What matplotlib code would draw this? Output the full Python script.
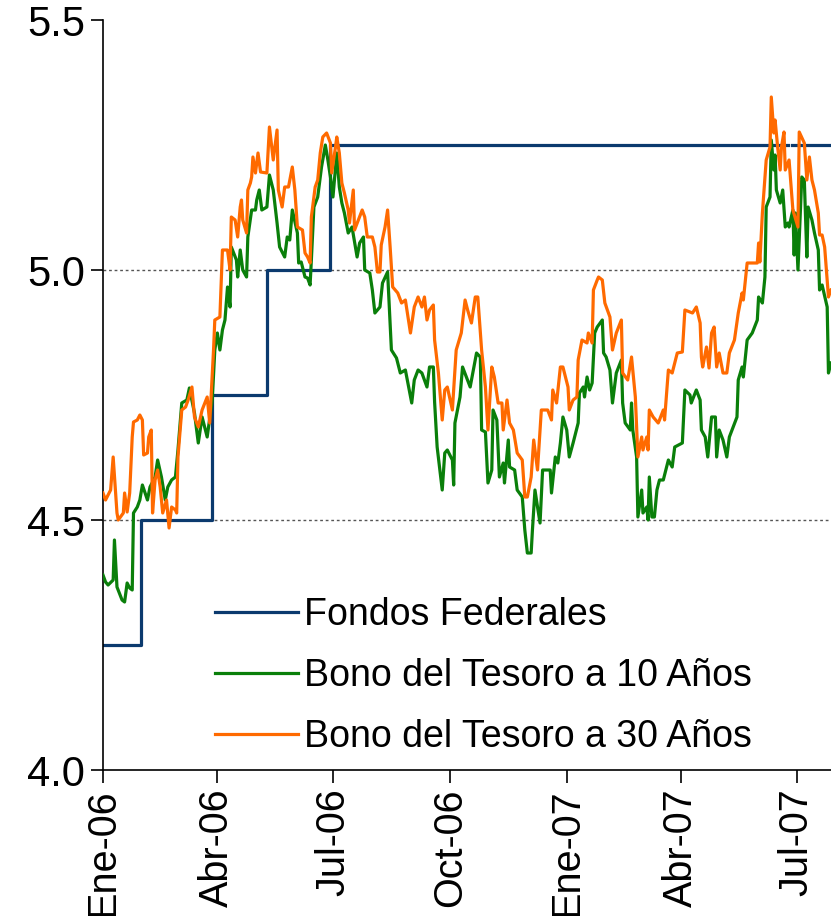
import numpy as np
import pandas as pd
import matplotlib
matplotlib.use("Agg")
import matplotlib.pyplot as plt
import matplotlib.dates as mdates

plt.rcParams['font.family'] = ['Liberation Sans', 'DejaVu Sans']

inicio = pd.Timestamp("2006-01-01")
fin_dias = 573

# Fondos Federales (days since 2006-01-01, %)
fed_dias = [0, 30, 86, 129, 179, 538, 539, 542, 573]
fed_vals = [4.25, 4.50, 4.75, 5.00, 5.25, 5.25, np.nan, 5.25, 5.25]

# Bono del Tesoro a 10 Años
b10_dias = [0, 2, 4, 8, 9, 11, 15, 17, 19, 21, 23, 24, 27, 29, 31, 35, 37, 41, 43, 46,
            49, 51, 54, 57, 59, 62, 66, 68, 72, 75, 78, 82, 86, 88, 90, 92, 94, 96, 98, 100,
            101, 105, 106, 108, 110, 113, 114, 117, 120, 121, 123, 125, 129, 131, 134, 137, 139, 143, 145, 147,
            149, 153, 154, 156, 159, 161, 163, 164, 166, 169, 172, 175, 177, 179, 181, 184, 186, 188, 190, 193,
            196, 200, 202, 205, 206, 210, 212, 214, 218, 220, 224, 227, 231, 234, 238, 240, 243, 245, 248, 251,
            253, 255, 257, 260, 261, 263, 267, 269, 271, 275, 276, 277, 281, 283, 289, 294, 297, 298, 301, 303,
            306, 307, 310, 312, 315, 316, 319, 320, 324, 326, 330, 332, 334, 337, 338, 340, 342, 344, 346, 352,
            353, 356, 358, 360, 362, 365, 367, 370, 374, 375, 378, 379, 381, 383, 385, 387, 389, 393, 394, 396,
            399, 401, 404, 408, 409, 411, 415, 416, 417, 420, 421, 424, 425, 428, 429, 430, 432, 434, 436, 438,
            441, 445, 448, 450, 456, 458, 462, 463, 467, 470, 471, 474, 476, 479, 482, 483, 485, 488, 491, 493,
            499, 500, 503, 504, 507, 511, 515, 516, 519, 521, 522, 525, 526, 528, 529, 530, 533, 535, 537, 539,
            540, 543, 544, 545, 547, 550, 552, 554, 555, 558, 560, 563, 564, 566, 570, 571, 573]
b10_vals = [4.39, 4.376, 4.37, 4.38, 4.46, 4.366, 4.34, 4.336, 4.374, 4.364, 4.36, 4.514, 4.526, 4.54, 4.57, 4.54, 4.566, 4.586, 4.62, 4.586,
            4.54, 4.566, 4.58, 4.586, 4.64, 4.734, 4.74, 4.764, 4.714, 4.654, 4.706, 4.666, 4.74, 4.84, 4.874, 4.84, 4.88, 4.90, 4.966, 4.926,
            5.046, 5.02, 4.986, 5.04, 5.00, 4.986, 5.066, 5.12, 5.12, 5.14, 5.16, 5.12, 5.126, 5.19, 5.16, 5.094, 5.046, 5.026, 5.066, 5.06,
            5.12, 5.074, 5.014, 5.016, 4.986, 4.984, 4.97, 5.02, 5.126, 5.146, 5.206, 5.25, 5.22, 5.186, 5.146, 5.234, 5.166, 5.134, 5.114, 5.074,
            5.086, 5.026, 5.054, 5.066, 5.00, 4.994, 4.96, 4.914, 4.926, 4.974, 4.996, 4.84, 4.824, 4.794, 4.80, 4.774, 4.734, 4.78, 4.80, 4.794,
            4.78, 4.766, 4.806, 4.806, 4.736, 4.646, 4.56, 4.634, 4.64, 4.62, 4.57, 4.694, 4.746, 4.806, 4.766, 4.834, 4.826, 4.68, 4.676, 4.574,
            4.60, 4.72, 4.70, 4.586, 4.614, 4.574, 4.66, 4.606, 4.60, 4.56, 4.546, 4.48, 4.434, 4.434, 4.48, 4.56, 4.526, 4.494, 4.60, 4.60,
            4.554, 4.626, 4.614, 4.654, 4.706, 4.68, 4.626, 4.654, 4.694, 4.754, 4.766, 4.746, 4.786, 4.76, 4.774, 4.874, 4.886, 4.90, 4.834, 4.826,
            4.80, 4.734, 4.794, 4.82, 4.734, 4.694, 4.68, 4.734, 4.68, 4.626, 4.506, 4.56, 4.514, 4.526, 4.50, 4.586, 4.506, 4.506, 4.56, 4.58,
            4.58, 4.62, 4.606, 4.646, 4.654, 4.76, 4.75, 4.734, 4.76, 4.74, 4.68, 4.666, 4.626, 4.706, 4.706, 4.626, 4.68, 4.66, 4.626, 4.666,
            4.706, 4.78, 4.806, 4.786, 4.86, 4.874, 4.90, 4.946, 4.934, 4.986, 5.126, 5.146, 5.26, 5.20, 5.23, 5.16, 5.134, 5.16, 5.086, 5.094,
            5.086, 5.12, 5.03, 5.114, 5.00, 5.186, 5.18, 5.026, 5.126, 5.10, 5.074, 5.04, 4.96, 4.97, 4.926, 4.794, 4.814]

# Bono del Tesoro a 30 Años
b30_dias = [0, 2, 6, 8, 11, 12, 16, 17, 19, 21, 23, 24, 27, 29, 31, 32, 35, 36, 38, 39,
            41, 43, 45, 47, 50, 52, 54, 57, 58, 59, 62, 65, 67, 70, 72, 75, 78, 82, 84, 87,
            88, 92, 94, 98, 100, 101, 104, 106, 108, 109, 110, 113, 114, 116, 117, 118, 120, 122, 124, 129,
            131, 134, 137, 138, 141, 143, 146, 149, 151, 153, 157, 159, 161, 163, 164, 167, 169, 171, 173, 176,
            179, 180, 183, 184, 186, 188, 190, 193, 194, 197, 198, 201, 204, 206, 208, 212, 214, 216, 218, 219,
            222, 224, 226, 228, 232, 235, 238, 242, 245, 248, 251, 253, 255, 257, 260, 261, 264, 267, 269, 271,
            275, 278, 282, 285, 287, 290, 293, 295, 298, 301, 303, 306, 308, 311, 314, 315, 318, 320, 323, 326,
            330, 332, 334, 337, 339, 342, 345, 350, 353, 354, 357, 360, 362, 366, 367, 370, 373, 374, 377, 381,
            382, 385, 386, 389, 390, 393, 395, 399, 401, 404, 408, 409, 413, 416, 419, 421, 424, 425, 428, 429,
            430, 433, 437, 438, 441, 442, 445, 448, 452, 456, 458, 462, 464, 467, 470, 471, 472, 475, 477, 479,
            481, 483, 485, 488, 491, 493, 497, 500, 503, 504, 507, 515, 516, 517, 519, 522, 525, 526, 528, 529,
            531, 533, 534, 536, 537, 540, 543, 547, 548, 552, 554, 556, 558, 560, 563, 564, 566, 568, 570, 571,
            573]
b30_vals = [4.554, 4.54, 4.56, 4.626, 4.514, 4.50, 4.514, 4.554, 4.516, 4.554, 4.666, 4.696, 4.70, 4.71, 4.70, 4.63, 4.634, 4.666, 4.68, 4.514,
            4.58, 4.60, 4.566, 4.514, 4.54, 4.484, 4.526, 4.52, 4.514, 4.626, 4.72, 4.726, 4.74, 4.766, 4.706, 4.686, 4.72, 4.746, 4.694, 4.84,
            4.90, 4.906, 5.04, 5.04, 5.00, 5.106, 5.10, 5.066, 5.126, 5.14, 5.10, 5.074, 5.16, 5.174, 5.186, 5.226, 5.194, 5.234, 5.196, 5.194,
            5.286, 5.22, 5.28, 5.16, 5.126, 5.166, 5.166, 5.206, 5.16, 5.086, 5.08, 5.034, 5.026, 5.014, 5.106, 5.166, 5.18, 5.234, 5.266, 5.274,
            5.254, 5.194, 5.246, 5.266, 5.234, 5.174, 5.154, 5.12, 5.094, 5.16, 5.08, 5.10, 5.12, 5.106, 5.066, 5.066, 5.046, 4.996, 4.996, 5.05,
            5.086, 5.12, 5.046, 4.966, 4.954, 4.934, 4.94, 4.874, 4.926, 4.946, 4.926, 4.946, 4.90, 4.92, 4.93, 4.86, 4.794, 4.70, 4.76, 4.766,
            4.72, 4.84, 4.874, 4.94, 4.92, 4.894, 4.946, 4.946, 4.84, 4.766, 4.68, 4.806, 4.786, 4.734, 4.734, 4.68, 4.74, 4.694, 4.68, 4.634,
            4.62, 4.546, 4.546, 4.586, 4.66, 4.60, 4.72, 4.72, 4.70, 4.76, 4.734, 4.806, 4.806, 4.766, 4.72, 4.74, 4.746, 4.82, 4.86, 4.854,
            4.874, 4.854, 4.96, 4.98, 4.986, 4.98, 4.934, 4.906, 4.84, 4.874, 4.90, 4.794, 4.78, 4.826, 4.746, 4.626, 4.666, 4.64, 4.666, 4.64,
            4.72, 4.706, 4.694, 4.70, 4.72, 4.70, 4.80, 4.794, 4.834, 4.836, 4.92, 4.916, 4.914, 4.926, 4.894, 4.826, 4.806, 4.846, 4.804, 4.874,
            4.886, 4.806, 4.834, 4.794, 4.794, 4.834, 4.86, 4.914, 4.954, 4.94, 5.014, 5.014, 5.054, 5.016, 5.114, 5.22, 5.246, 5.346, 5.274, 5.30,
            5.246, 5.20, 5.246, 5.276, 5.20, 5.22, 5.12, 5.086, 5.276, 5.254, 5.18, 5.226, 5.18, 5.16, 5.114, 5.07, 5.07, 5.046, 4.98, 4.946,
            4.96]

tick_fechas = ["2006-01-01", "2006-04-01", "2006-07-01", "2006-10-01",
               "2007-01-01", "2007-04-01", "2007-07-01"]
tick_labels = ["Ene-06", "Abr-06", "Jul-06", "Oct-06", "Ene-07", "Abr-07", "Jul-07"]
y_ticks = [4.0, 4.5, 5.0, 5.5]

def to_dates(d):
    return inicio + pd.to_timedelta(np.asarray(d, dtype=float), unit="D")

fig = plt.figure(figsize=(8.31, 9.16), dpi=100)
ax = fig.add_axes([103/831, 1 - 770/916, 1 - 103/831, (770 - 20)/916])

ax.plot(to_dates(fed_dias), fed_vals, color="#0B3A6E", lw=2.3, drawstyle="steps-post",
        label="Fondos Federales", zorder=2)
ax.plot(to_dates(b10_dias), b10_vals, color="#0A7F0A", lw=2.3, label="Bono del Tesoro a 10 Años", zorder=3)
ax.plot(to_dates(b30_dias), b30_vals, color="#FF6A00", lw=2.3, label="Bono del Tesoro a 30 Años", zorder=4)

ax.set_ylim(4.0, 5.5)
ax.set_xlim(inicio, inicio + pd.Timedelta(days=fin_dias))
ax.set_yticks(y_ticks)
ax.set_yticklabels([f"{v:.1f}" for v in y_ticks], fontsize=30)
ax.set_xticks(pd.to_datetime(tick_fechas))
ax.set_xticklabels(tick_labels, rotation=90, fontsize=28.5)

for v in [4.5, 5.0]:
    ax.axhline(v, color="#555555", lw=1.0, ls=(0, (2, 2)), zorder=1)

for s in ["top", "right"]:
    ax.spines[s].set_visible(False)
for s in ["left", "bottom"]:
    ax.spines[s].set_linewidth(1.2)
    ax.spines[s].set_color("black")
ax.tick_params(axis="y", direction="out", length=9, width=1.2, pad=4)
ax.tick_params(axis="x", direction="out", length=9, width=1.2, pad=4)

leg = ax.legend(loc="center left", bbox_to_anchor=(0.154, 0.1253), frameon=False,
                fontsize=27, handlelength=2.22, handletextpad=0.15,
                labelspacing=0.66, borderpad=0, borderaxespad=0)
for h in leg.get_lines():
    h.set_linewidth(2.3)

fig.savefig("out.png", dpi=100)
